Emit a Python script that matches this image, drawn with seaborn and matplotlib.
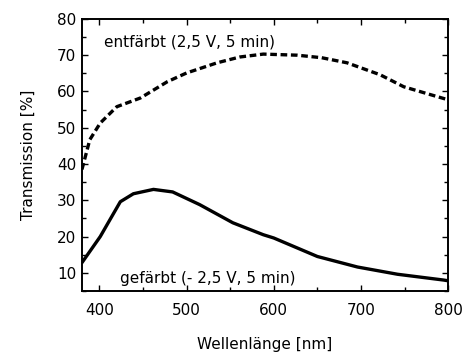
import matplotlib
matplotlib.use("Agg")
import matplotlib.pyplot as plt
from matplotlib.ticker import MultipleLocator
import seaborn as sns
import pandas as pd

# entfärbt curve (dashed)
wl_ent = [380, 389, 401, 420, 447, 478, 500, 535, 561, 588, 627, 655, 684, 722, 749, 780, 800]
tr_ent = [38.5, 46.7, 51.3, 55.8, 58.2, 62.7, 65.1, 67.9, 69.5, 70.3, 70.0, 69.3, 67.9, 64.6, 61.3, 59.1, 57.7]

# gefärbt curve (solid)
wl_gef = [380, 401, 412, 424, 439, 462, 484, 515, 553, 588, 600, 650, 696, 742, 795, 800]
tr_gef = [12.8, 20.0, 24.6, 29.6, 31.8, 33.0, 32.3, 28.8, 23.8, 20.5, 19.6, 14.5, 11.6, 9.6, 8.0, 7.8]

df_ent = pd.DataFrame({"wl": wl_ent, "tr": tr_ent})
df_gef = pd.DataFrame({"wl": wl_gef, "tr": tr_gef})

sns.set_style("ticks")
plt.rcParams['font.family'] = ['DejaVu Sans']
plt.rcParams['text.color'] = 'black'
plt.rcParams['axes.labelcolor'] = 'black'
plt.rcParams['xtick.color'] = 'black'
plt.rcParams['ytick.color'] = 'black'

fig = plt.figure(figsize=(4.63, 3.57), dpi=100)
ax = fig.add_axes([0.177, 0.185, 0.791, 0.762])

sns.lineplot(data=df_ent, x="wl", y="tr", ax=ax, color="black", linewidth=2.4,
             linestyle=(0, (2.0, 1.1)))
sns.lineplot(data=df_gef, x="wl", y="tr", ax=ax, color="black", linewidth=2.4)

ax.set_xlim(380, 800)
ax.set_ylim(5, 80)
ax.xaxis.set_major_locator(MultipleLocator(100))
ax.xaxis.set_minor_locator(MultipleLocator(50))
ax.yaxis.set_major_locator(MultipleLocator(10))
ax.yaxis.set_minor_locator(MultipleLocator(5))
ax.tick_params(which="both", direction="in", top=True, right=True, labelsize=11)
ax.tick_params(which="major", length=4, width=1)
ax.tick_params(which="minor", length=3, width=1)
ax.tick_params(axis="x", pad=9)
ax.tick_params(axis="y", pad=4)
for s in ax.spines.values():
    s.set_linewidth(1.4)
    s.set_color("black")

ax.set_xlabel("Wellenlänge [nm]", fontsize=11, labelpad=13)
ax.set_ylabel("Transmission [%]", fontsize=11, labelpad=15)

ax.text(405, 73.5, "entfärbt (2,5 V, 5 min)", fontsize=11, va="center")
ax.text(424, 8.3, "gefärbt (- 2,5 V, 5 min)", fontsize=11, va="center")

fig.savefig("out.png", dpi=100)
